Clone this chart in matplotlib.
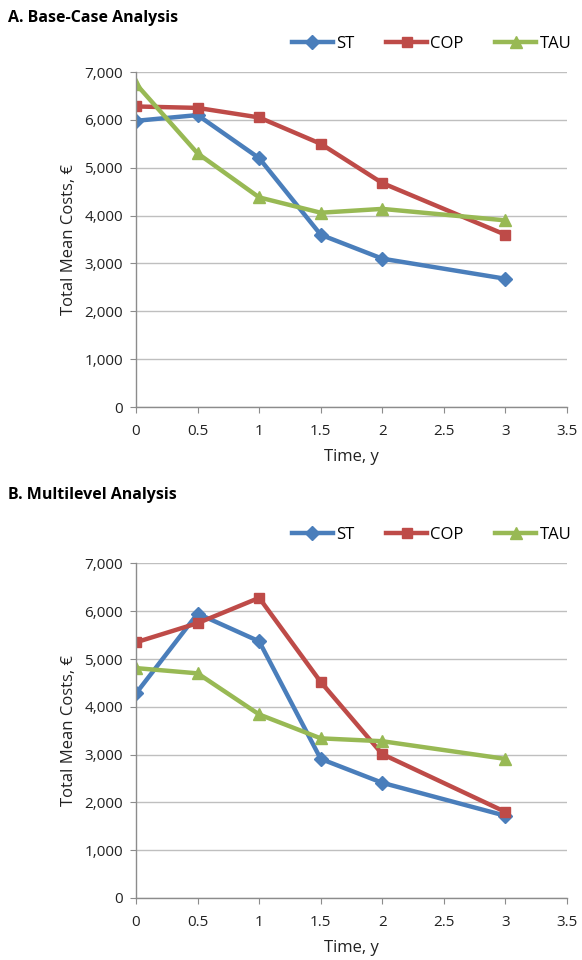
import numpy as np
import matplotlib
matplotlib.use("Agg")
import matplotlib.pyplot as plt
from matplotlib import ticker

plt.rcParams['font.family'] = ['Open Sans', 'DejaVu Sans']

time_y = [0, 0.5, 1, 1.5, 2, 3]
series_names = ['ST', 'COP', 'TAU']

# A. base-case
base_st = [5980, 6100, 5200, 3600, 3100, 2680]
base_cop = [6280, 6250, 6050, 5500, 4680, 3600]
base_tau = [6750, 5300, 4380, 4060, 4140, 3900]

# B. multilevel
multi_st = [4280, 5950, 5370, 2910, 2410, 1720]
multi_cop = [5350, 5750, 6280, 4520, 3010, 1800]
multi_tau = [4810, 4700, 3840, 3340, 3280, 2910]

colors = ['#4A7EBB', '#BE4B48', '#98B954']
markers = ['D', 's', '^']
msizes = [7, 7, 8]


def draw_panel(ax, data, title, title_y, leg_y):
    fig = ax.figure
    for vals, name, c, m, ms in zip(data, series_names, colors, markers, msizes):
        ax.plot(time_y, vals, color=c, marker=m, markersize=ms, lw=3.2,
                label=name, solid_joinstyle='round')
    ax.set_xlim(0, 3.5)
    ax.set_ylim(0, 7000)
    ax.xaxis.set_major_locator(ticker.MultipleLocator(0.5))
    ax.yaxis.set_major_locator(ticker.MultipleLocator(1000))
    ax.xaxis.set_major_formatter(ticker.FuncFormatter(lambda v, p: ('%g' % v)))
    ax.yaxis.set_major_formatter(ticker.FuncFormatter(lambda v, p: '{:,.0f}'.format(v)))
    ax.grid(axis='y', color='#BFBFBF', lw=1)
    ax.set_axisbelow(True)
    for s in ['top', 'right']:
        ax.spines[s].set_visible(False)
    for s in ['left', 'bottom']:
        ax.spines[s].set_color('#8C8C8C')
        ax.spines[s].set_linewidth(1)
    ax.tick_params(axis='both', direction='out', color='#8C8C8C', length=4.5,
                   labelsize=11, labelcolor='#222222')
    ax.tick_params(axis='x', pad=8)
    ax.tick_params(axis='y', pad=5)
    ax.set_xlabel('Time, y', fontsize=12, color='#222222', labelpad=7)
    ax.set_ylabel('Total Mean Costs, €', fontsize=12, color='#222222', labelpad=5)
    ax.legend(loc='center right', bbox_to_anchor=(0.982, leg_y),
              bbox_transform=fig.transFigure, ncol=3, frameon=False,
              fontsize=12, handlelength=2.46, columnspacing=1.9,
              handletextpad=0.2, borderpad=0, borderaxespad=0)
    fig.text(0.014, title_y, title, fontsize=11.5, fontweight='bold', va='center')


fig = plt.figure(figsize=(5.82, 9.6), dpi=100)
ax1 = fig.add_axes([0.2337, 0.576, 0.7405, 0.349])
ax2 = fig.add_axes([0.2337, 0.0646, 0.7405, 0.3485])

draw_panel(ax1, [base_st, base_cop, base_tau], 'A. Base-Case Analysis', 0.981, 0.9539)
draw_panel(ax2, [multi_st, multi_cop, multi_tau], 'B. Multilevel Analysis', 0.4845, 0.4427)

fig.savefig('out.png', dpi=100)
